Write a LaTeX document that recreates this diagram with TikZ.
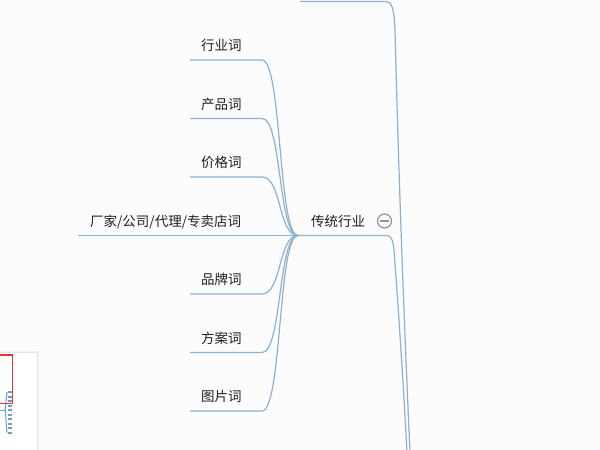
\documentclass[tikz,border=0pt]{standalone}
\usepackage{fontspec}
\newfontfamily\cjk{Noto Sans CJK SC}
\definecolor{bgc}{RGB}{252,252,252}
\definecolor{linec}{RGB}{140,178,208}
\definecolor{txtc}{RGB}{30,30,30}
\definecolor{mapc}{RGB}{110,155,198}
\definecolor{redc}{RGB}{232,52,52}
\begin{document}
\begin{tikzpicture}[x=1pt,y=-1pt,
  conn/.style={draw=linec,line width=1.2pt},
  lbl/.style={anchor=west,inner sep=0pt,text=txtc,font=\cjk\fontsize{13.5}{16}\selectfont},
  mapline/.style={draw=mapc,line width=1pt}]
\useasboundingbox (0,0) rectangle (600,450);
\fill[bgc] (0,0) rectangle (600,450);
\clip (0,0) rectangle (600,450);
% hub
\coordinate (hub) at (298,235.5);
% top branch to root
\coordinate (topL) at (300,1.5);
\coordinate (rootA) at (410,452);
\coordinate (rootB) at (407,452);
\draw[conn] (topL) -- (386,1.5) .. controls (391,1.5) and (394,6) .. (395,30) .. controls (398,150) and (403,300) .. (rootA);
% 传统行业 node
\node[lbl] (ct) at (311,221) {传统行业};
\node[circle,draw=gray!85,line width=1.2pt,minimum size=14pt,inner sep=0pt] (fold) at (384.5,221) {};
\draw[gray!85,line width=1.3pt] ([xshift=-4.5pt]fold.center) -- ([xshift=4.5pt]fold.center);
\draw[conn] (hub) -- (387,235.5) .. controls (391,235.5) and (393,240) .. (394,250) .. controls (397,290) and (402,360) .. (rootB);
% children
\foreach \nm/\txt/\yy in {c1/行业词/60, c2/产品词/118.5, c3/价格词/177, c5/品牌词/294, c6/方案词/352.5, c7/图片词/411}{
  \node[lbl] (\nm) at (201,\yy-14.5) {\txt};
  \coordinate (\nm e) at (262,\yy);
  \coordinate (\nm s) at (190,\yy);
  \draw[conn] (\nm s) -- (\nm e) .. controls (282,\yy) and (278,235.5) .. (hub);
}
\node[lbl] (c4) at (90,221.5) {厂家/公司/代理/专卖店词};
\coordinate (c4s) at (78,235.5);
\draw[conn] (c4s) -- (hub);
% minimap panel
\fill[black!6] (0,351) rectangle (38.5,452);
\fill[white] (0,352) rectangle (37,452);
\draw[black!10,line width=0.6pt] (-1,352) -- (37,352) -- (37,452);
\foreach \k in {0,...,9}{
  \draw[mapline,line width=2pt] (7.5,392+4.5*\k) -- (12,392+4.5*\k);
}
\draw[mapline] (7.5,392) .. controls (6,392) and (6,410) .. (5,410) .. controls (6,410) and (6,432.5) .. (7.5,432.5);
\draw[mapline] (0,410) -- (5,410);
\draw[redc,line width=1.3pt] (-2,355) rectangle (12.5,403.5);
\end{tikzpicture}
\end{document}
